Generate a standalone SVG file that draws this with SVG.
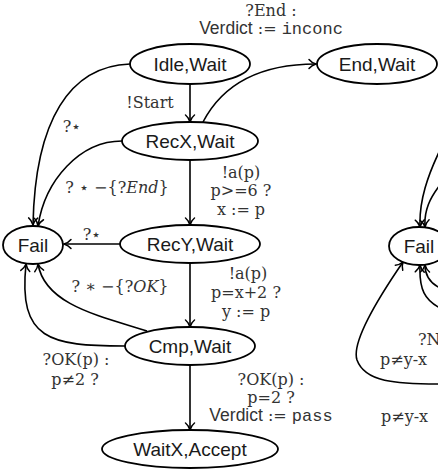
<svg xmlns="http://www.w3.org/2000/svg" width="438" height="474" viewBox="0 0 438 474">
<style>
.node ellipse{fill:#fff;stroke:#000;stroke-width:1.8}
.node text{font-family:"Liberation Sans",Arial,sans-serif;font-size:19px;fill:#1a1a1a;text-anchor:middle}
#edges path{fill:none;stroke:#000;stroke-width:1.6;marker-end:url(#arr)}
.lb{font-family:"DejaVu Serif","Liberation Serif",serif;font-size:16px;fill:#333;text-anchor:middle}
.lbs{font-family:"DejaVu Serif","Liberation Serif",serif;font-size:16px;fill:#333;text-anchor:start}
.ss{font-family:"Liberation Sans",Arial,sans-serif;font-size:17.5px}
.tt{font-family:"Liberation Mono","Courier New",monospace;font-size:17px}
.it{font-style:italic}
</style>
<defs>
<marker id="arr" markerWidth="12" markerHeight="12" viewBox="-9 -6 12 12" refX="0" refY="0" orient="auto" markerUnits="userSpaceOnUse">
<path d="M-7,-4.5 C-5,-2 -2,-0.6 0,0 C-2,0.6 -5,2 -7,4.5" fill="none" stroke="#000" stroke-width="1.5" stroke-linecap="round"/>
</marker>
</defs>
<g id="edges">
<path d="M190,84 L190,122"/>
<path d="M203,122 C225,80 265,64 316,64"/>
<path d="M130,64 C70,66 35,120 33,225"/>
<path d="M122,141 C80,141 45,180 38,226"/>
<path d="M120,244 L64,244"/>
<path d="M147,331 C100,316 45,305 38,264"/>
<path d="M125,346 C50,346 18,340 26,264"/>
<path d="M190,160 L190,225"/>
<path d="M190,263 L190,327"/>
<path d="M190,365 L190,430"/>
<path d="M440,150 C428,175 419,200 420,227"/>
<path d="M440,185 C430,198 424,210 425,227"/>
<path d="M440,384 C395,384 365,382 357,360 C352,345 370,310 403,262"/>
<path d="M440,308 C425,300 419,290 420,265"/>
<path d="M440,288 C430,283 425,276 425,265"/>
</g>
<g id="idle" class="node"><ellipse cx="190" cy="64" rx="60" ry="20"/><text x="190" y="70.5">Idle,Wait</text></g>
<g id="end" class="node"><ellipse cx="377" cy="64" rx="60" ry="20"/><text x="377" y="70.5">End,Wait</text></g>
<g id="recx" class="node"><ellipse cx="190" cy="141" rx="68" ry="19"/><text x="190" y="147.5">RecX,Wait</text></g>
<g id="recy" class="node"><ellipse cx="190" cy="244" rx="70" ry="19"/><text x="190" y="250.5">RecY,Wait</text></g>
<g id="cmp" class="node"><ellipse cx="190" cy="346" rx="65" ry="19"/><text x="190" y="352.5">Cmp,Wait</text></g>
<g id="waitx" class="node"><ellipse cx="190" cy="449" rx="88" ry="19"/><text x="190" y="455.5">WaitX,Accept</text></g>
<g id="fail" class="node"><ellipse cx="33" cy="245" rx="30" ry="19"/><text x="33" y="251.5">Fail</text></g>
<g id="fail2" class="node"><ellipse cx="419" cy="246" rx="30" ry="19"/><text x="419" y="252.5">Fail</text></g>
<g id="labels">
<text class="lb" x="271" y="16">?End :</text>
<text class="lb" x="271" y="34"><tspan class="ss">Verdict</tspan> := <tspan class="tt">inconc</tspan></text>
<text class="lb" x="150" y="108">!Start</text>
<text class="lb" x="72" y="132">?⋆</text>
<text class="lb" x="117" y="193">? ⋆ −{?<tspan class="it">End</tspan>}</text>
<text class="lb" x="92" y="240">?⋆</text>
<text class="lb" x="120" y="292">? ∗ −{?<tspan class="it">OK</tspan>}</text>
<text class="lb" x="76" y="365">?OK(p) :</text>
<text class="lb" x="75" y="385">p≠2 ?</text>
<text class="lb" x="241" y="178">!a(p)</text>
<text class="lb" x="241" y="196">p&gt;=6 ?</text>
<text class="lb" x="241" y="215">x := p</text>
<text class="lb" x="248" y="279">!a(p)</text>
<text class="lb" x="246" y="298">p=x+2 ?</text>
<text class="lb" x="246" y="317">y := p</text>
<text class="lb" x="271" y="385">?OK(p) :</text>
<text class="lb" x="271" y="403">p=2 ?</text>
<text class="lb" x="271" y="421"><tspan class="ss">Verdict</tspan> := <tspan class="tt">pass</tspan></text>
<text class="lbs" x="418" y="345">?N</text>
<text class="lbs" x="380" y="365">p≠y-x</text>
<text class="lbs" x="381" y="422">p≠y-x</text>
</g>
</svg>
